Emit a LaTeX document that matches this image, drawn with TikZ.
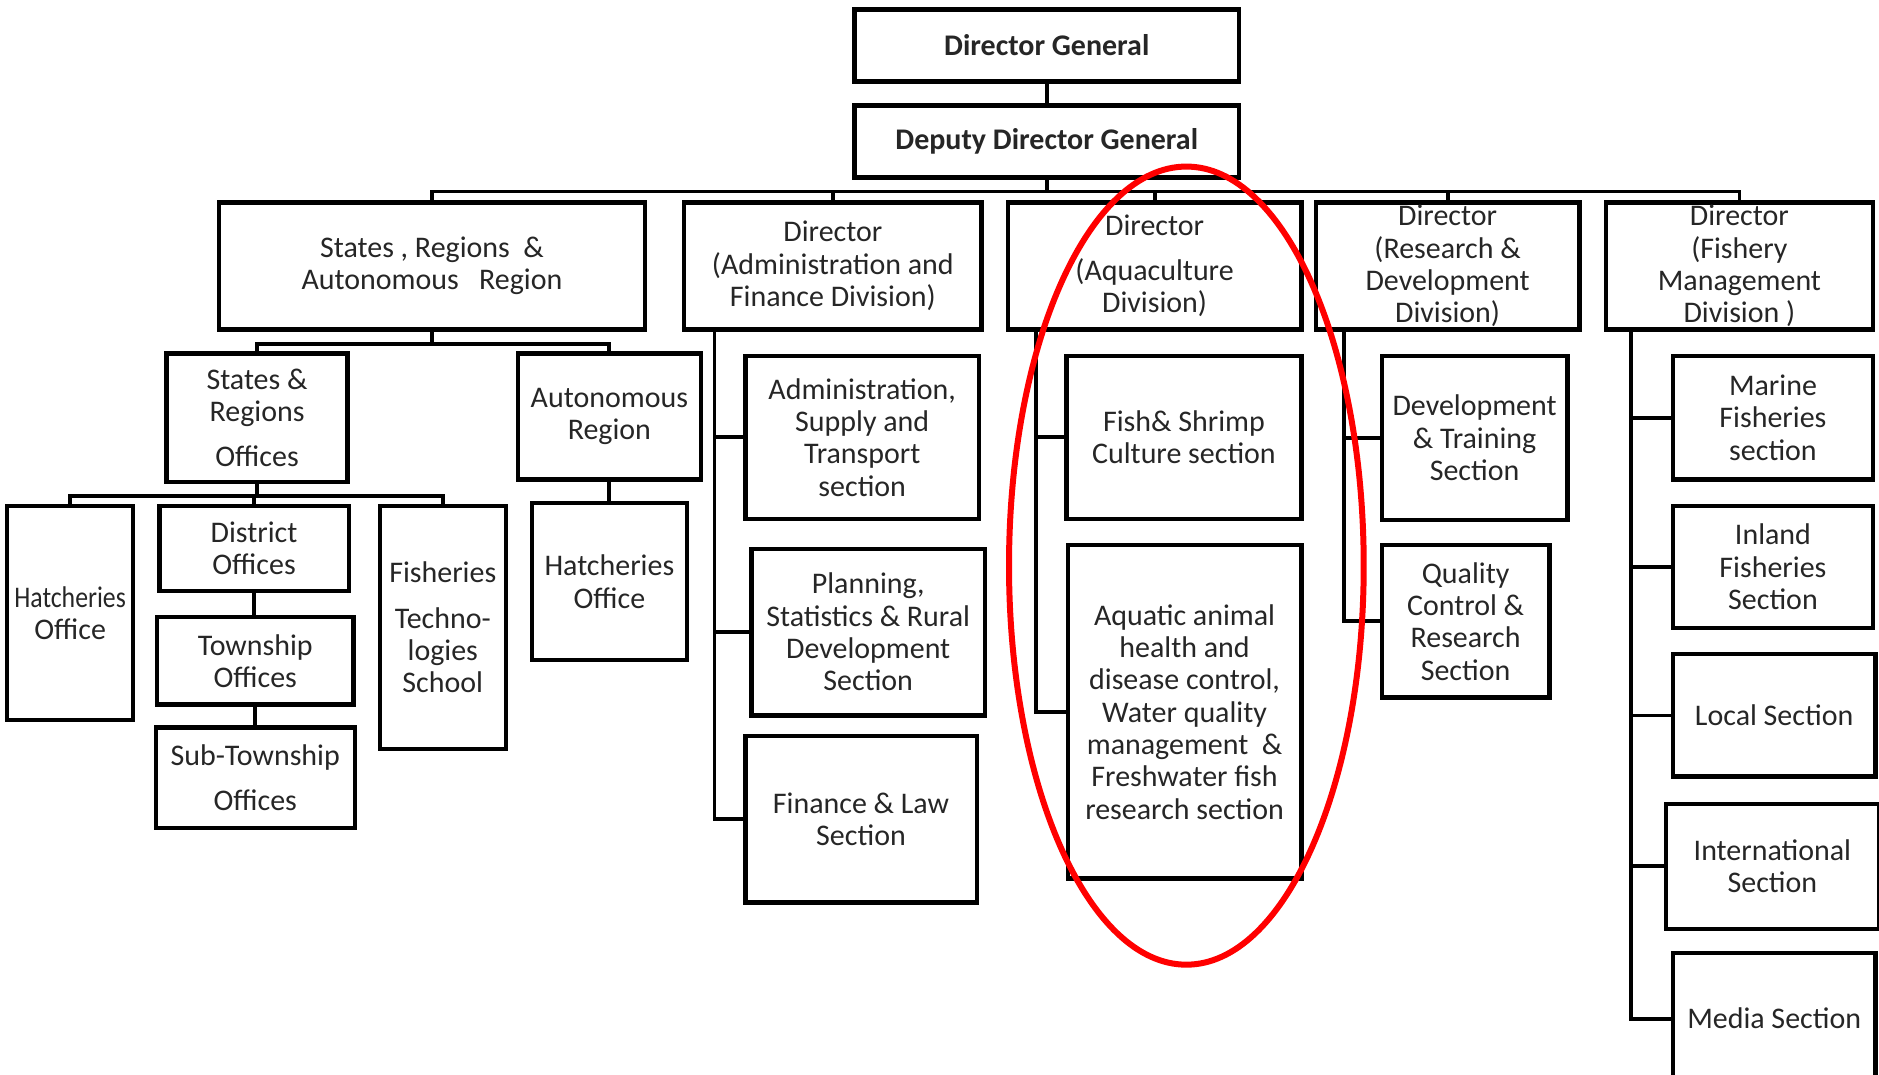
\documentclass[tikz,border=0pt]{standalone}
\usepackage{fontspec}
\setmainfont{Carlito}
\usepackage{graphicx}
\usepackage{tikz}
\usetikzlibrary{positioning}

\newcommand{\orgfont}{\fontsize{25}{27}\selectfont}

\begin{document}
\begin{tikzpicture}[x=1pt, y=-1pt,
    box/.style={draw, line width=3.6pt, inner sep=0pt, align=center, font=\orgfont, text=black!85},
    link/.style={line width=3.2pt}]
    \useasboundingbox (0,0) rectangle (1568,897);

    % top of the chart
    \node (dg) [box, minimum width=321pt, minimum height=60pt] at (873.5,38) {\textbf{Director General}};
    \node (ddg) [box, minimum width=321pt, minimum height=60pt] at (873.5,118) {\textbf{Deputy Director General}};

    % divisions
    \node (states) [box, minimum width=355pt, minimum height=106pt] at (360.5,222) {States , Regions~~\&\\Autonomous~~~Region};
    \node (adm) [box, minimum width=248pt, minimum height=106pt] at (695,222) {Director\\(Administration and\\Finance Division)};
    \node (aqua) [box, minimum width=245pt, minimum height=106pt] at (963.5,222) {Director\\[10pt](Aquaculture\\Division)};
    \node (rnd) [box, minimum width=220pt, minimum height=106pt] at (1208,222) {Director\\(Research \&\\Development\\Division)};
    \node (fmd) [box, minimum width=223pt, minimum height=106pt] at (1451.5,222) {Director\\(Fishery\\Management\\Division )};

    % states and regions
    \node (sro) [box, minimum width=151pt, minimum height=107pt] at (214.5,348.5) {States \&\\Regions\\[10pt]Offices};
    \node (aut) [box, minimum width=153pt, minimum height=105pt] at (508.5,347.5) {Autonomous\\Region};
    \node (hat2) [box, minimum width=129pt, minimum height=131pt] at (508.5,485.5) {Hatcheries\\Office};
    \node (hat1) [box, minimum width=105pt, minimum height=179pt] at (58.5,511.5) {\scalebox{0.86}[1]{Hatcheries}\\Office};
    \node (dist) [box, minimum width=158pt, minimum height=71pt] at (212,457.5) {District\\Offices};
    \node (town) [box, minimum width=164pt, minimum height=73pt] at (213,551.5) {Township\\Offices};
    \node (subt) [box, minimum width=166pt, minimum height=84pt] at (213,649) {Sub-Township\\[10pt]Offices};
    \node (fts) [box, minimum width=105pt, minimum height=203pt] at (369.5,523.5) {Fisheries\\[11pt]Techno-\\logies\\School};

    % administration and finance
    \node (adm1) [box, minimum width=195pt, minimum height=136pt] at (719.5,365) {Administration,\\Supply and\\Transport\\section};
    \node (adm2) [box, minimum width=195pt, minimum height=139pt] at (724.5,527.5) {Planning,\\Statistics \& Rural\\Development\\Section};
    \node (adm3) [box, minimum width=193pt, minimum height=139pt] at (718.5,683.5) {Finance \& Law\\Section};

    % aquaculture
    \node (aqua1) [box, minimum width=196pt, minimum height=136pt] at (988,365) {Fish\& Shrimp\\Culture section};
    \node (aqua2) [box, minimum width=195pt, minimum height=278pt] at (988.5,594) {Aquatic animal\\health and\\disease control,\\Water quality\\management~~\&\\Freshwater fish\\research section};

    % research and development
    \node (rnd1) [box, minimum width=155pt, minimum height=137pt] at (1230.5,365.5) {Development\\\& Training\\Section};
    \node (rnd2) [box, minimum width=140pt, minimum height=127pt] at (1223,518.5) {Quality\\Control \&\\Research\\Section};

    % fishery management
    \node (fmd1) [box, minimum width=167pt, minimum height=103pt] at (1479.5,348.5) {Marine\\Fisheries\\section};
    \node (fmd2) [box, minimum width=167pt, minimum height=102pt] at (1479.5,473) {Inland\\Fisheries\\Section};
    \node (fmd3) [box, minimum width=169pt, minimum height=102pt] at (1480.5,597) {Local Section};
    \node (fmd4) [box, minimum width=178pt, minimum height=104pt] at (1479,723) {International\\Section};
    \node (fmd5) [box, minimum width=169pt, minimum height=110pt] at (1480.5,850) {Media Section};

    % connectors
    \draw[link] (dg) -- (ddg);
    \foreach \d in {states,adm,aqua,rnd,fmd}
        \draw[link] (ddg.south) -- ++(0,10) -| (\d.north);
    \foreach \c in {sro,aut}
        \draw[link] (states.south) -- ++(0,10) -| (\c.north);
    \foreach \c in {hat1,dist,fts}
        \draw[link] (sro.south) -- ++(0,10) -| (\c.north);
    \draw[link] (dist.south) -- (dist.south |- town.north);
    \draw[link] (town.south) -- (town.south |- subt.north);
    \draw[link] (aut.south) -- (hat2.north);
    \foreach \c in {adm1,adm2,adm3}
        \draw[link] ([xshift=27pt]adm.south west) |- (\c.west);
    \foreach \c in {aqua1,aqua2}
        \draw[link] ([xshift=25pt]aqua.south west) |- (\c.west);
    \foreach \c in {rnd1,rnd2}
        \draw[link] ([xshift=25pt]rnd.south west) |- (\c.west);
    \foreach \c in {fmd1,fmd2,fmd3,fmd4,fmd5}
        \draw[link] ([xshift=23pt]fmd.south west) |- (\c.west);

    % highlight
    \draw[red, line width=5pt] (990,472) ellipse [x radius=148, y radius=333];
\end{tikzpicture}
\end{document}
